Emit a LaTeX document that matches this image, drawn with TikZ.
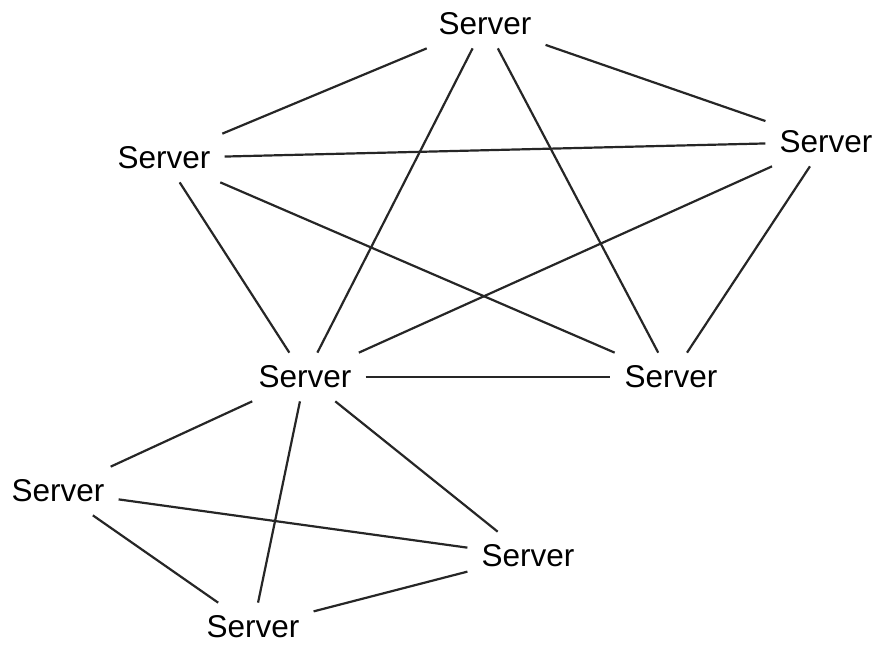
\documentclass[tikz,border=0pt]{standalone}
\usepackage{fontspec}
\setmainfont{Liberation Sans}
\usepackage{tikz}

\begin{document}
\begin{tikzpicture}[
  x=1pt, y=-1pt,
  server/.style={font=\fontsize{31.5}{36}\selectfont, inner xsep=14pt, inner ysep=13pt},
  link/.style={line width=2.2pt, black!85},
]
\useasboundingbox (0,0) rectangle (883,656);

% Upper group of servers
\node[server] (top) at (485,24) {Server};
\node[server] (ul)  at (164,158) {Server};
\node[server] (ur)  at (826,142) {Server};
\node[server] (ml)  at (305,377) {Server};
\node[server] (mr)  at (671,377) {Server};

% Lower group of servers
\node[server] (ll)  at (58,491) {Server};
\node[server] (lr)  at (528,556) {Server};
\node[server] (bot) at (253,627) {Server};

% Links in the upper group (every pair)
\foreach \a/\b in {top/ul, top/ur, top/ml, top/mr, ul/ur, ul/ml, ul/mr, ur/ml, ur/mr, ml/mr} {
  \draw[link] (\a) -- (\b);
}
% Links in the lower group (every pair)
\foreach \a/\b in {ml/ll, ml/lr, ml/bot, ll/lr, ll/bot, lr/bot} {
  \draw[link] (\a) -- (\b);
}
\end{tikzpicture}
\end{document}
